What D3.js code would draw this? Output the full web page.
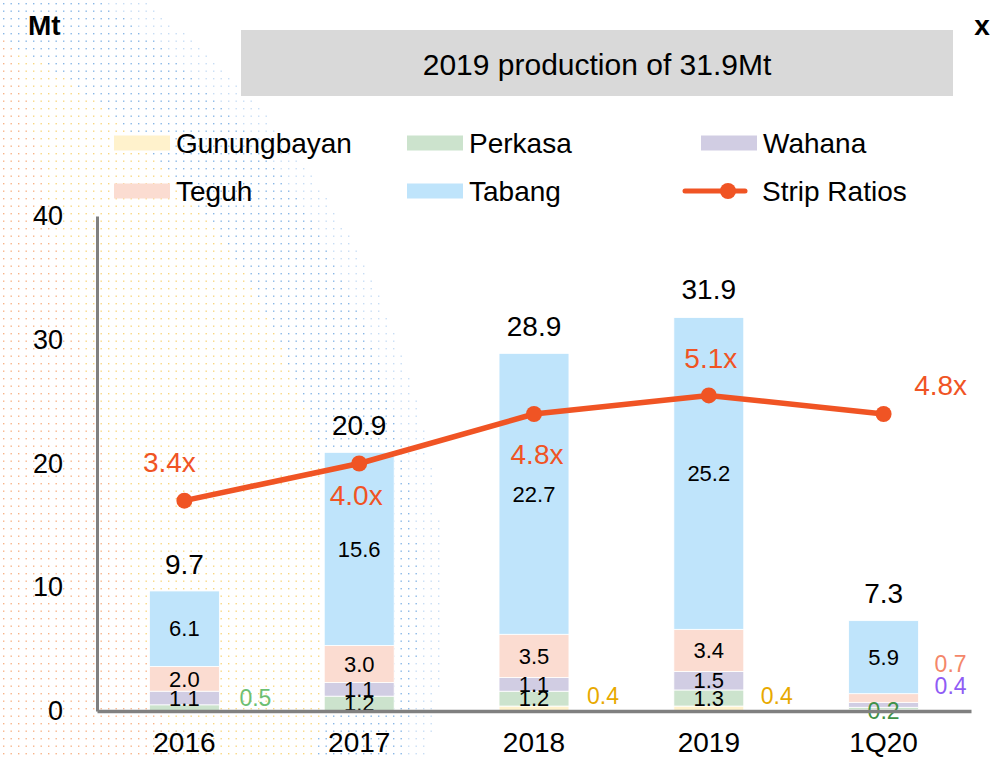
<!DOCTYPE html>
<html>
<head>
<meta charset="utf-8">
<script src="https://cdn.jsdelivr.net/npm/d3@7"></script>
<style>
  body { margin: 0; background: #fff; }
  svg { display: block; font-family: Arial, "Liberation Sans", sans-serif; }
</style>
</head>
<body>
<svg id="chart" width="1005" height="759"></svg>
<script>
  // data
  var categories = ['2016', '2017', '2018', '2019', '1Q20'];
  var seriesNames = ['Gunungbayan', 'Perkasa', 'Wahana', 'Teguh', 'Tabang'];
  var gunungbayan = [0, 0, 0.4, 0.4, 0.1];
  var perkasa = [0.5, 1.2, 1.2, 1.3, 0.2];
  var wahana = [1.1, 1.1, 1.1, 1.5, 0.4];
  var teguh = [2.0, 3.0, 3.5, 3.4, 0.7];
  var tabang = [6.1, 15.6, 22.7, 25.2, 5.9];
  var totals = [9.7, 20.9, 28.9, 31.9, 7.3];
  var stripRatios = [3.4, 4.0, 4.8, 5.1, 4.8];
  var yTicks = [0, 10, 20, 30, 40];
  // small segments labelled beside the bar: [category, series]
  var outsideLabels = [['2016', 'Perkasa'], ['2018', 'Gunungbayan'], ['2019', 'Gunungbayan'],
    ['1Q20', 'Teguh'], ['1Q20', 'Wahana'], ['1Q20', 'Perkasa']];

  // layout / styles
  var outsideOffsets = [[71, -10], [69, -13], [68, -13], [67, -34], [67, -19], [0, 2]];
  var outsideColors = ['#6dbf73', '#e8a900', '#e8a900', '#f4876a', '#8f5cf5', '#3f9146'];
  var ratioOffsets = [[-15, -38], [-3, 32], [3, 40], [2, -37], [57, -29]];
  var colors = {
    Gunungbayan: '#fff2cc', Perkasa: '#cce3cd', Wahana: '#d1cde3',
    Teguh: '#fbdcd1', Tabang: '#bfe4fb'
  };
  var lineColor = '#f05424';

  var svg = d3.select('#chart');

  // faint dotted decoration top-left
  var deco = svg.append('g');
  for (var gy = 3; gy < 759; gy += 7.5) {
    for (var gx = 3; gx < 460; gx += 7.5) {
      var dist = Math.sqrt((gx + 307) * (gx + 307) + (gy - 600) * (gy - 600));
      var d = 750 - dist;
      if (d < 0) continue;
      var c = d < 110 ? '#4a90d9' : (gx < 30 + (gy - 120) * 0.22 ? '#f28c4a' : '#f5c23e');
      deco.append('rect')
        .attr('x', gx).attr('y', gy).attr('width', 1.4).attr('height', 1.4)
        .attr('fill', c)
        .attr('opacity', d < 25 ? 0.3 : 0.65);
    }
  }

  var x = d3.scaleBand().domain(categories).range([97, 971]).paddingInner(0.6).paddingOuter(0.3);
  var y = d3.scaleLinear().domain([0, 40]).range([711, 216]);
  var y2 = d3.scaleLinear().domain([0, 8]).range([711, 216]);

  var table = categories.map(function (c, i) {
    return {
      cat: c, Gunungbayan: gunungbayan[i], Perkasa: perkasa[i], Wahana: wahana[i],
      Teguh: teguh[i], Tabang: tabang[i]
    };
  });
  var stacked = d3.stack().keys(seriesNames)(table);

  // title box
  svg.append('rect').attr('x', 241).attr('y', 30).attr('width', 712).attr('height', 66).attr('fill', '#d9d9d9');
  svg.append('text').attr('x', 597).attr('y', 64).attr('dy', '0.35em')
    .attr('text-anchor', 'middle').attr('font-size', 30).text('2019 production of 31.9Mt');

  svg.append('text').attr('x', 28).attr('y', 25).attr('dy', '0.35em')
    .attr('font-size', 28).attr('font-weight', 'bold').text('Mt');
  svg.append('text').attr('x', 982).attr('y', 25).attr('dy', '0.35em')
    .attr('text-anchor', 'middle').attr('font-size', 28).attr('font-weight', 'bold').text('x');

  // legend
  var legendOrder = ['Gunungbayan', 'Perkasa', 'Wahana', 'Teguh', 'Tabang', 'Strip Ratios'];
  var legend = svg.append('g');
  legendOrder.forEach(function (name, i) {
    var lx = [114, 407, 701][i % 3];
    var ly = [143, 191][Math.floor(i / 3)];
    var g = legend.append('g').attr('transform', 'translate(' + lx + ',' + ly + ')');
    if (name === 'Strip Ratios') {
      g.append('line').attr('x1', -16).attr('x2', 44).attr('y1', 0).attr('y2', 0)
        .attr('stroke', lineColor).attr('stroke-width', 5).attr('stroke-linecap', 'round');
      g.append('circle').attr('cx', 27).attr('cy', 0).attr('r', 8).attr('fill', lineColor);
      g.append('text').attr('x', 61).attr('dy', '0.35em').attr('font-size', 28).text(name);
    } else {
      g.append('rect').attr('x', 0).attr('y', -7.5).attr('width', 56).attr('height', 15).attr('fill', colors[name]);
      g.append('text').attr('x', 62).attr('dy', '0.35em').attr('font-size', 28).text(name);
    }
  });

  // bars
  var bars = svg.append('g');
  stacked.forEach(function (layer) {
    bars.selectAll(null).data(layer).enter().append('rect')
      .attr('x', function (d) { return x(d.data.cat); })
      .attr('y', function (d) { return y(d[1]); })
      .attr('width', x.bandwidth())
      .attr('height', function (d) { return y(d[0]) - y(d[1]); })
      .attr('fill', colors[layer.key])
      .attr('stroke', '#fff').attr('stroke-width', 0.8);
  });

  // segment labels inside bars
  stacked.forEach(function (layer) {
    bars.selectAll(null).data(layer.filter(function (d) { return d[1] - d[0] >= 1; }))
      .enter().append('text')
      .attr('x', function (d) { return x(d.data.cat) + x.bandwidth() / 2; })
      .attr('y', function (d) { return y((d[0] + d[1]) / 2); })
      .attr('dy', '0.35em').attr('text-anchor', 'middle').attr('font-size', 22)
      .text(function (d) { return d3.format('.1f')(d[1] - d[0]); });
  });

  // small segment labels beside the bars
  outsideLabels.forEach(function (o, i) {
    var layer = stacked[seriesNames.indexOf(o[1])];
    var d = layer[categories.indexOf(o[0])];
    svg.append('text')
      .attr('x', x(o[0]) + x.bandwidth() / 2 + outsideOffsets[i][0])
      .attr('y', y((d[0] + d[1]) / 2) + outsideOffsets[i][1])
      .attr('dy', '0.35em').attr('text-anchor', 'middle').attr('font-size', 23)
      .attr('fill', outsideColors[i])
      .text(d3.format('.1f')(d[1] - d[0]));
  });

  // totals
  svg.selectAll('.total').data(totals).enter().append('text')
    .attr('x', function (d, i) { return x(categories[i]) + x.bandwidth() / 2; })
    .attr('y', function (d) { return y(d) - 27; })
    .attr('dy', '0.35em').attr('text-anchor', 'middle').attr('font-size', 28)
    .text(function (d) { return d3.format('.1f')(d); });

  // axes
  var yAxis = svg.append('g').attr('transform', 'translate(97,0)')
    .call(d3.axisLeft(y).tickValues(yTicks).tickSize(0).tickPadding(34));
  yAxis.selectAll('text').attr('font-size', 27).attr('fill', '#000').attr('font-family', 'Arial, "Liberation Sans", sans-serif');
  yAxis.select('.domain').attr('stroke', '#808080').attr('stroke-width', 3);

  var xAxis = svg.append('g').attr('transform', 'translate(0,711)')
    .call(d3.axisBottom(x).tickSize(0).tickPadding(21));
  xAxis.selectAll('text').attr('font-size', 28).attr('fill', '#000').attr('font-family', 'Arial, "Liberation Sans", sans-serif');
  xAxis.select('.domain').attr('stroke', '#808080').attr('stroke-width', 3.5);

  // strip ratio line
  var line = d3.line()
    .x(function (d, i) { return x(categories[i]) + x.bandwidth() / 2; })
    .y(function (d) { return y2(d); });
  svg.append('path').datum(stripRatios).attr('d', line)
    .attr('fill', 'none').attr('stroke', lineColor).attr('stroke-width', 5.5).attr('stroke-linejoin', 'round');
  svg.selectAll('.pt').data(stripRatios).enter().append('circle')
    .attr('cx', function (d, i) { return x(categories[i]) + x.bandwidth() / 2; })
    .attr('cy', function (d) { return y2(d); })
    .attr('r', 8).attr('fill', lineColor);
  svg.selectAll('.ratio').data(stripRatios).enter().append('text')
    .attr('x', function (d, i) { return x(categories[i]) + x.bandwidth() / 2 + ratioOffsets[i][0]; })
    .attr('y', function (d, i) { return y2(d) + ratioOffsets[i][1]; })
    .attr('dy', '0.35em').attr('text-anchor', 'middle').attr('font-size', 28)
    .attr('fill', lineColor)
    .text(function (d) { return d3.format('.1f')(d) + 'x'; });
</script>
</body>
</html>
